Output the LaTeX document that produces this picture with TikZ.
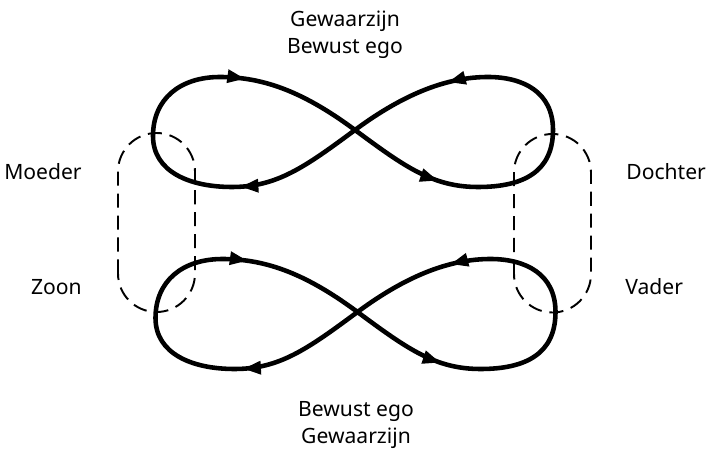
\documentclass[tikz,border=0pt]{standalone}
\usepackage{xcolor}
\usepackage{fontspec}
\setmainfont{Noto Sans}
\usepackage{tikz}
\usetikzlibrary{arrows.meta,decorations.markings}

\tikzset{
  flowtip/.tip={Triangle[length=0.36cm,width=0.25cm]},
  loopline/.style={line width=2.6pt, line join=round, postaction={decorate},
    decoration={markings,
      mark=at position 0.10 with {\arrow{flowtip}},
      mark=at position 0.39 with {\arrow{flowtip}},
      mark=at position 0.63 with {\arrow{flowtip}},
      mark=at position 0.875 with {\arrow{flowtip}}}},
  dashloop/.style={line width=1.1pt, dash pattern=on 8pt off 4.5pt, rounded corners=0.77cm},
  lbl/.style={inner sep=0pt, font=\fontsize{12}{14.8}\selectfont},
}

\begin{document}
\begin{tikzpicture}
    \useasboundingbox (0,0) rectangle (14.12,8.98);

    % the two figure eights
    \foreach \dx/\dy in {0/0, 0.05/-3.64} {
        \draw[loopline, shift={(\dx,\dy)}] (7.1,6.38)
            .. controls (8.1,5.64) and (8.66,5.24) .. (9.56,5.24)
            .. controls (10.46,5.24) and (11.06,5.54) .. (11.06,6.38)
            .. controls (11.06,7.14) and (10.46,7.44) .. (9.76,7.44)
            .. controls (8.96,7.44) and (8.1,7.12) .. (7.1,6.38)
            .. controls (6.1,5.64) and (5.54,5.24) .. (4.64,5.24)
            .. controls (3.8,5.24) and (3.06,5.54) .. (3.06,6.26)
            .. controls (3.06,7.0) and (3.6,7.44) .. (4.4,7.44)
            .. controls (5.3,7.44) and (6.1,7.12) .. (7.1,6.38);
    }

    % dashed links
    \draw[dashloop] (2.36,2.74) rectangle (3.9,6.32);
    \draw[dashloop] (10.28,2.73) rectangle (11.82,6.3);

    \node[lbl, anchor=base] (topaware) at (6.9,8.45) {Gewaarzijn};
    \node[lbl, anchor=base] (topego) at (6.9,7.91) {Bewust ego};
    \node[lbl, anchor=base] (botego) at (7.12,0.645) {Bewust ego};
    \node[lbl, anchor=base] (botaware) at (7.12,0.113) {Gewaarzijn};

    \node[lbl, anchor=base east] (moeder) at (1.64,5.38) {Moeder};
    \node[lbl, anchor=base east] (zoon) at (1.64,3.08) {Zoon};
    \node[lbl, anchor=base west] (dochter) at (12.52,5.38) {Dochter};
    \node[lbl, anchor=base west] (vader) at (12.5,3.08) {Vader};
\end{tikzpicture}
\end{document}
